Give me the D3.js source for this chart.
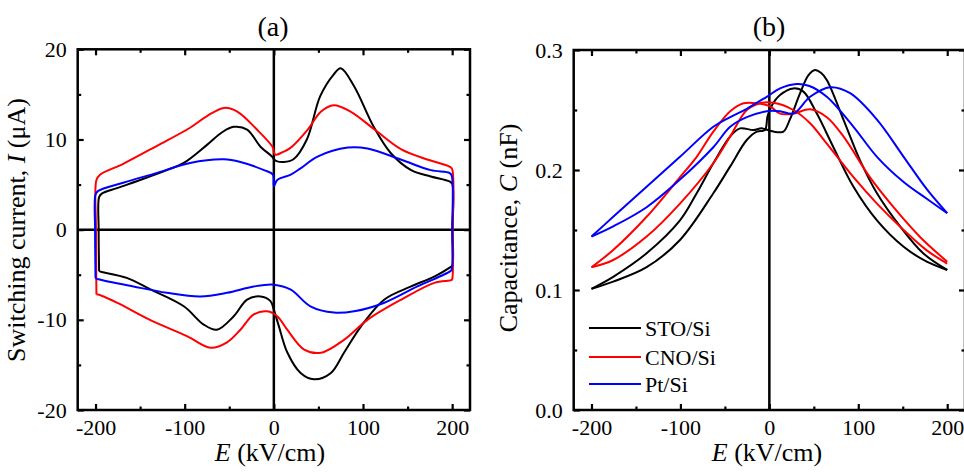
<!DOCTYPE html>
<html lang="en">
<head>
<meta charset="utf-8">
<title>switching current and capacitance</title>
<script src="https://cdn.jsdelivr.net/npm/d3@7"></script>
<style>
  body{ margin:0; background:#fff; }
</style>
</head>
<body>
<div id="chart"></div>
<script>
// panel (a): switching current loops, [E kV/cm, I uA]
var stoUp = [[-196,-4.6],[-196.5,0],[-196,3.6],[-193,4.0],[-176,4.6],[-150,5.5],[-120,6.6],[-101,7.4],[-75,9.4],[-58,10.8],[-45,11.4],[-30,11.1],[-15,9.2],[-2,8.1],[0,7.8],
  [3,7.6],[11,7.5],[22,7.8],[37,10],[52,14.8],[67,17.2],[75,17.9],[90,15.9],[112,11.4],[131,8.5],[154,6.6],[176,5.9],[197,5.35],[200,5.1],[200.5,0],[200.3,-4.0]]
var stoDown = [[199,-4.1],[180,-5.2],[154,-6.3],[124,-7.75],[98,-10.7],[79,-13.6],[64,-15.9],[45,-16.6],[30,-15.9],[15,-13.6],[5.6,-10.7],[0,-8.9],[-4,-7.9],[-15,-7.4],
  [-30,-7.75],[-45,-9.6],[-64,-11.1],[-79,-10.5],[-101,-8.5],[-139,-6.6],[-165,-5.35],[-193,-4.7],[-196,-4.6]]

var cnoUp = [[-199,-7.2],[-199.5,0],[-199,5.5],[-195,6.1],[-169,7.3],[-131,9.3],[-94,11.3],[-75,12.6],[-56,13.5],[-41,13.1],[-19,11.1],[-1,9.1],[0,8.6],
  [2,8.3],[10,8.6],[19,9.1],[38,11.1],[53,13.1],[67,13.8],[86,13.1],[113,11.1],[143,8.9],[173,7.75],[197,7.0],[200,6.7],[200.5,0],[200,-5.5]]
var cnoDown = [[199,-5.6],[180,-5.9],[143,-7.75],[105,-10],[79,-12.2],[53,-13.65],[34,-13.3],[15,-11.1],[3.8,-9.6],[-7.5,-9.05],[-22.5,-9.4],[-37.5,-11.1],[-52.5,-12.5],
  [-71,-13.1],[-97.5,-11.8],[-139,-10],[-176,-8.1],[-197,-7.2],[-199,-7.2]]

var ptUp = [[-200,-5.4],[-200.5,0],[-200,3.9],[-197,4.3],[-169,5.2],[-131,6.3],[-94,7.4],[-56,7.8],[-37.5,7.5],[-11,6.6],[-1,6.1],[0,4.8],
  [3.8,5.5],[19,6.1],[30,6.8],[49,8.1],[83,9.1],[105,9.0],[143,7.75],[176,6.6],[197,6.3],[199.5,6.0],[200,0],[199.5,-4.4]]
var ptDown = [[198,-4.6],[161,-6.3],[124,-8.1],[90,-9.05],[67.5,-9.2],[41,-8.5],[19,-6.65],[0,-6.1],[-22.5,-6.3],[-52.5,-7.0],[-82.5,-7.4],[-120,-7.0],
  [-157.6,-6.3],[-197,-5.5],[-200,-5.4]]

// panel (b): capacitance, two sweeps each, [E kV/cm, C nF]
var stoC1 = [[-200,0.101],[-175.6,0.111],[-138,0.1306],[-100.5,0.158],[-81.7,0.1806],[-63,0.2056],[-44,0.228],[-33,0.2347],[-18,0.2333],[-8.6,0.2347],[4.5,0.232],
  [15.8,0.232],[23,0.242],[34.6,0.264],[44,0.279],[51.4,0.2833],[58,0.281],[64.6,0.275],[83.3,0.242],[102,0.208],[121,0.1806],[147,0.153],[173,0.1306],[200,0.1167]]
var stoC2 = [[-200,0.101],[-175.6,0.107],[-138,0.119],[-100.5,0.1417],[-63,0.1806],[-44,0.203],[-25.4,0.225],[-14,0.232],[-5,0.2333],[-2,0.245],[3,0.254],[12,0.2625],
  [27,0.268],[38.3,0.2653],[53.4,0.247],[72,0.219],[94.6,0.186],[121,0.158],[151,0.136],[177,0.1236],[200,0.1167]]
var cnoC1 = [[-200,0.119],[-175.6,0.1333],[-138,0.161],[-100.5,0.194],[-81.7,0.211],[-63,0.232],[-44,0.249],[-29,0.2556],[-14,0.2556],[0.8,0.253],[12,0.247],[27,0.247],
  [45.8,0.2506],[64.6,0.244],[83.3,0.228],[113,0.194],[139.6,0.169],[169.7,0.144],[200,0.1236]]
var cnoC2 = [[-200,0.119],[-175.6,0.125],[-138,0.1445],[-100.5,0.172],[-63,0.2056],[-44,0.228],[-25.4,0.25],[-10.5,0.2556],[4.5,0.256],[27,0.25],[45.8,0.239],
  [64.6,0.222],[94.6,0.194],[121,0.172],[151,0.15],[177,0.133],[200,0.122]]
var ptC1 = [[-200,0.1445],[-175.6,0.161],[-138,0.186],[-100.5,0.211],[-63,0.236],[-44,0.244],[-25.4,0.251],[-3,0.261],[12,0.268],[30.8,0.2717],[45,0.27],[64.6,0.261],
  [94.6,0.236],[121,0.211],[151,0.19],[177,0.176],[200,0.164]]
var ptC2 = [[-200,0.1445],[-175.6,0.153],[-138,0.169],[-100.5,0.192],[-63,0.219],[-44,0.236],[-25.4,0.244],[-3,0.249],[12,0.249],[27,0.247],[45.8,0.261],[68.3,0.269],
  [90.8,0.264],[121,0.242],[151,0.211],[177,0.184],[200,0.164]]

var names = ["STO/Si","CNO/Si","Pt/Si"]
var colors = ["#000000","#ff0000","#0000ff"]

var xMajor = [-200,-100,0,100,200]
var xMinor = [-150,-50,50,150]
var yMajorA = [-20,-10,0,10,20]
var yMinorA = [-15,-5,5,15]
var yMajorB = [0,0.1,0.2,0.3]
var yMinorB = [0.05,0.15,0.25]

var w = 964, h = 473
var serif = "Liberation Serif"
var svg = d3.select("#chart").append("svg").attr("width",w).attr("height",h).attr("font-family",serif)

var xA = d3.scaleLinear().domain([-220,220]).range([77.7,470])
var yA = d3.scaleLinear().domain([-20,20]).range([410,49.3])
var xB = d3.scaleLinear().domain([-220,220]).range([573.7,965])
var yB = d3.scaleLinear().domain([0,0.3]).range([410,50])

// plain hyphen for negatives, like the original figure
var intFmt = function(d){ return String(d) }
var decFmt = function(d){ return d.toFixed(1) }

function drawAxes(x,y,yMajor,yMinor,yFmt){
  var g = svg.append("g")
  var x0 = x.range()[0], x1 = x.range()[1], y0 = y.range()[0], y1 = y.range()[1]
  // major ticks carry the labels, minor ones are shorter
  g.append("g").attr("transform","translate(0,"+y0+")")
    .call(d3.axisBottom(x).tickValues(xMajor).tickSize(-6).tickPadding(9).tickFormat(intFmt))
  g.append("g").attr("transform","translate(0,"+y0+")")
    .call(d3.axisBottom(x).tickValues(xMinor).tickSize(-3.5).tickFormat(""))
  g.append("g").attr("transform","translate(0,"+y1+")")
    .call(d3.axisTop(x).tickValues(xMajor).tickSize(-6).tickFormat(""))
  g.append("g").attr("transform","translate(0,"+y1+")")
    .call(d3.axisTop(x).tickValues(xMinor).tickSize(-3.5).tickFormat(""))
  g.append("g").attr("transform","translate("+x0+",0)")
    .call(d3.axisLeft(y).tickValues(yMajor).tickSize(-6).tickPadding(11).tickFormat(yFmt))
  g.append("g").attr("transform","translate("+x0+",0)")
    .call(d3.axisLeft(y).tickValues(yMinor).tickSize(-3.5).tickFormat(""))
  g.append("g").attr("transform","translate("+x1+",0)")
    .call(d3.axisRight(y).tickValues(yMajor).tickSize(-6).tickFormat(""))
  g.append("g").attr("transform","translate("+x1+",0)")
    .call(d3.axisRight(y).tickValues(yMinor).tickSize(-3.5).tickFormat(""))
  g.selectAll(".domain").remove()
  g.selectAll("g").attr("font-family",serif).attr("font-size",22)
  g.selectAll(".tick line").attr("stroke","#000").attr("stroke-width",2.2)
  g.selectAll(".tick text").attr("fill","#000").attr("font-family",serif)
  g.append("rect").attr("x",x0).attr("y",y1).attr("width",x1-x0).attr("height",y0-y1)
    .attr("fill","none").attr("stroke","#000").attr("stroke-width",2.5)
}

drawAxes(xA,yA,yMajorA,yMinorA,intFmt)
drawAxes(xB,yB,yMajorB,yMinorB,decFmt)

// zero lines
svg.append("line").attr("x1",xA(0)).attr("x2",xA(0)).attr("y1",yA(-20)).attr("y2",yA(20)).attr("stroke","#000").attr("stroke-width",2.5)
svg.append("line").attr("x1",xA(-220)).attr("x2",xA(220)).attr("y1",yA(0)).attr("y2",yA(0)).attr("stroke","#000").attr("stroke-width",2.5)
svg.append("line").attr("x1",xB(0)).attr("x2",xB(0)).attr("y1",yB(0)).attr("y2",yB(0.3)).attr("stroke","#000").attr("stroke-width",2.5)

var lineA = d3.line().x(function(d){return xA(d[0])}).y(function(d){return yA(d[1])}).curve(d3.curveCatmullRom.alpha(0.5))
var lineB = d3.line().x(function(d){return xB(d[0])}).y(function(d){return yB(d[1])}).curve(d3.curveCatmullRom.alpha(0.5))

var loops = [stoUp.concat(stoDown), cnoUp.concat(cnoDown), ptUp.concat(ptDown)]
svg.selectAll(".loop").data(loops).enter().append("path")
  .attr("class","loop")
  .attr("d",lineA)
  .attr("fill","none")
  .attr("stroke",function(d,i){return colors[i]})
  .attr("stroke-width",2)

var cv = [stoC1,stoC2,cnoC1,cnoC2,ptC1,ptC2]
svg.selectAll(".cv").data(cv).enter().append("path")
  .attr("class","cv")
  .attr("d",lineB)
  .attr("fill","none")
  .attr("stroke",function(d,i){return colors[Math.floor(i/2)]})
  .attr("stroke-width",2)

// legend
var leg = svg.selectAll(".leg").data(names).enter().append("g").attr("class","leg")
  .attr("transform",function(d,i){return "translate(589,"+[328,357,384][i]+")"})
leg.append("line").attr("x1",0).attr("x2",52).attr("stroke",function(d,i){return colors[i]}).attr("stroke-width",2)
leg.append("text").attr("x",56).attr("dy","0.35em").attr("font-family",serif).attr("font-size",22).text(function(d){return d})

// titles and axis labels
svg.append("text").attr("x",273).attr("y",36).attr("text-anchor","middle").attr("font-family",serif).attr("font-size",28).text("(a)")
svg.append("text").attr("x",769).attr("y",36).attr("text-anchor","middle").attr("font-family",serif).attr("font-size",28).text("(b)")

function xLabel(cx){
  var t = svg.append("text").attr("x",cx).attr("y",461).attr("text-anchor","middle").attr("font-family",serif).attr("font-size",26)
  t.append("tspan").attr("font-style","italic").text("E")
  t.append("tspan").text(" (kV/cm)")
}
xLabel(270)
xLabel(767)

var ya = svg.append("text").attr("transform","translate(25,230) rotate(-90)").attr("text-anchor","middle").attr("font-family",serif).attr("font-size",26)
ya.append("tspan").text("Switching current, ")
ya.append("tspan").attr("font-style","italic").text("I")
ya.append("tspan").text(" (\u03bcA)")

var yb = svg.append("text").attr("transform","translate(517,228) rotate(-90)").attr("text-anchor","middle").attr("font-family",serif).attr("font-size",26)
yb.append("tspan").text("Capacitance, ")
yb.append("tspan").attr("font-style","italic").text("C")
yb.append("tspan").text(" (nF)")
</script>
</body>
</html>
